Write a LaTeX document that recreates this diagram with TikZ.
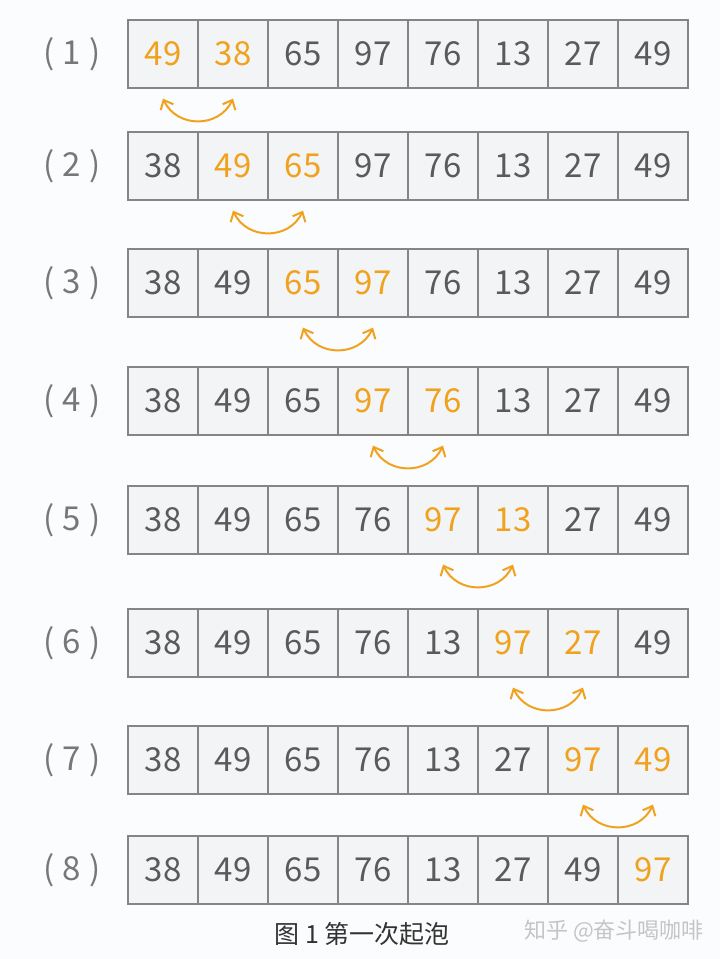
\documentclass[tikz,border=0pt]{standalone}
\usepackage{fontspec}
\setmainfont{Noto Sans CJK SC}
\usetikzlibrary{arrows.meta}
\definecolor{paper}{HTML}{FBFCFD}
\definecolor{cellfill}{HTML}{F3F4F6}
\definecolor{cellline}{HTML}{858585}
\definecolor{numgray}{HTML}{5A5A5A}
\definecolor{lblgray}{HTML}{777777}
\definecolor{swapcol}{HTML}{F0A21E}
\definecolor{markgray}{HTML}{C5C5C5}
\tikzstyle{cell}=[draw=cellline, fill=cellfill, line width=0.6pt, minimum width=35pt, minimum height=34pt, inner sep=0, font=\fontsize{16.5}{20}\selectfont]
\tikzstyle{row label}=[text=lblgray, inner sep=0, font=\fontsize{16.5}{20}\selectfont]
\tikzstyle{swap arrow}=[swapcol, line width=1pt, {Straight Barb[length=4pt,width=7pt]}-{Straight Barb[length=4pt,width=7pt]}, out=-65, in=-115, looseness=1.2]
\tikzstyle{caption}=[text=black!80, inner sep=0, font=\fontsize{12.5}{15}\selectfont]

\begin{document}
\begin{tikzpicture}[x=0.5pt, y=0.5pt]
    \fill[paper] (0,0) rectangle (720,-959);
    \useasboundingbox (0,0) rectangle (720,-959);

    % one row per pass, the swapped pair in orange
    \foreach \r/\top/\vals in {
        1/20/{49,38,65,97,76,13,27,49},
        2/132/{38,49,65,97,76,13,27,49},
        3/249/{38,49,65,97,76,13,27,49},
        4/367/{38,49,65,97,76,13,27,49},
        5/486/{38,49,65,76,97,13,27,49},
        6/609/{38,49,65,76,13,97,27,49},
        7/726/{38,49,65,76,13,27,97,49},
        8/836/{38,49,65,76,13,27,49,97}} {
      \node[row label] (lbl\r) at (72, -\top-34) {(\hspace{4pt}\r\hspace{4pt})};
      \foreach \v [count=\c] in \vals {
        \pgfmathtruncatemacro\ishot{(\c==\r)||(\c==\r+1)}
        \ifnum\ishot=1 \def\numcol{swapcol}\else\def\numcol{numgray}\fi
        \node[cell, text=\numcol] (c\r-\c) at (93+70*\c, -\top-34) {\v};
      }
    }

    \foreach \r [evaluate=\r as \s using int(\r+1)] in {1,...,7}
      \draw[swap arrow] ([yshift=-5pt]c\r-\r.south) to ([yshift=-5pt]c\r-\s.south);

    \node[caption] (cap) at (362, -934) {图\hspace{3pt}1\hspace{3pt}第一次起泡};
    \node[text=markgray, inner sep=0, font=\fontsize{11}{13}\selectfont] (mark) at (614, -931) {知乎 @奋斗喝咖啡};
  \end{tikzpicture}
\end{document}
